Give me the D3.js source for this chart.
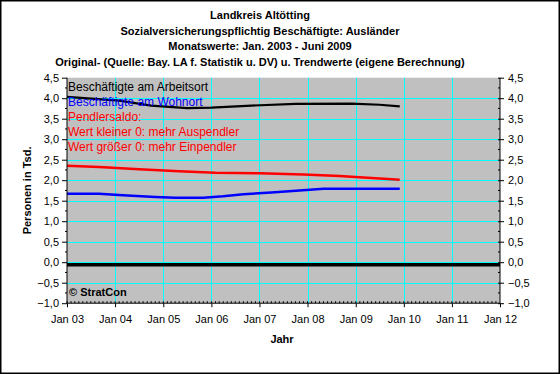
<!DOCTYPE html>
<html lang="de">
<head>
<meta charset="UTF-8">
<title>Landkreis Altötting</title>
<script src="https://d3js.org/d3.v7.min.js"></script>
<style>
    body { margin: 0; background: #fff; }
    svg text { font-family: "Liberation Sans", Arial, sans-serif; }
</style>
</head>
<body>
<div id="chart"></div>
<script>
    // title lines
    let titleLines = [
        "Landkreis Altötting",
        "Sozialversicherungspflichtig Beschäftigte: Ausländer",
        "Monatswerte: Jan. 2003 - Juni 2009",
        "Original- (Quelle: Bay. LA f. Statistik u. DV) u. Trendwerte (eigene Berechnung)"
    ];

    // Beschäftigte am Arbeitsort (Trend, Tsd.)
    let arbeitsortDates = ["2003-01", "2004-02", "2004-10", "2005-07", "2006-01", "2006-11", "2007-10", "2008-12", "2009-07", "2009-12"];
    let arbeitsortValues = [4.03, 3.94, 3.82, 3.76, 3.77, 3.82, 3.86, 3.87, 3.84, 3.80];

    // Beschäftigte am Wohnort
    let wohnortDates = ["2003-01", "2003-09", "2004-03", "2004-11", "2005-04", "2005-11", "2006-04", "2006-09", "2007-04", "2007-11", "2008-05", "2009-12"];
    let wohnortValues = [1.67, 1.67, 1.63, 1.59, 1.575, 1.575, 1.61, 1.66, 1.70, 1.75, 1.79, 1.79];

    // Pendlersaldo
    let saldoDates = ["2003-01", "2003-09", "2004-07", "2005-05", "2006-02", "2007-01", "2007-12", "2008-09", "2009-06", "2009-12"];
    let saldoValues = [2.35, 2.32, 2.27, 2.22, 2.18, 2.17, 2.14, 2.10, 2.05, 2.01];

    // thick zero line
    let zeroDates = ["2003-01", "2012-01"];
    let zeroValues = [-0.06, -0.06];

    let yTicks = [-1, -0.5, 0, 0.5, 1, 1.5, 2, 2.5, 3, 3.5, 4, 4.5];

    let legendLines = [
        {text: "Beschäftigte am Arbeitsort", color: "#000000"},
        {text: "Beschäftigte am Wohnort", color: "#0000ff"},
        {text: "Pendlersaldo:", color: "#ff0000"},
        {text: "Wert kleiner 0: mehr Auspendler", color: "#ff0000"},
        {text: "Wert größer 0: mehr Einpendler", color: "#ff0000"}
    ];

    let width = 560, height = 374;
    let parseMonth = d3.timeParse("%Y-%m");
    let fmtNum = d3.format(".1f");

    let svg = d3.select("#chart").append("svg")
        .attr("width", width)
        .attr("height", height);

    // frame
    svg.append("rect")
        .attr("x", 0.75).attr("y", 0.75)
        .attr("width", width - 1.5).attr("height", height - 1.5)
        .attr("fill", "#fff")
        .attr("stroke", "#000")
        .attr("stroke-width", 1.5);

    let x = d3.scaleTime()
        .domain([new Date(2003, 0, 1), new Date(2012, 0, 1)])
        .range([67, 500]);
    let y = d3.scaleLinear()
        .domain([-1, 4.5])
        .range([303.2, 77.7]);

    // titles
    svg.selectAll("text.title")
        .data(titleLines)
        .join("text")
        .attr("class", "title")
        .attr("x", 260)
        .attr("y", (d, i) => 19 + i * 15.5)
        .attr("text-anchor", "middle")
        .attr("font-size", "11px")
        .attr("font-weight", "bold")
        .text(d => d);

    // plot background
    svg.append("rect")
        .attr("x", x.range()[0]).attr("y", y.range()[1])
        .attr("width", x.range()[1] - x.range()[0])
        .attr("height", y.range()[0] - y.range()[1])
        .attr("fill", "#c0c0c0");

    // grid
    let years = x.ticks(d3.timeYear.every(1));
    svg.append("g").selectAll("line")
        .data(years.slice(1, -1))
        .join("line")
        .attr("x1", d => Math.round(x(d)) + 0.5).attr("x2", d => Math.round(x(d)) + 0.5)
        .attr("y1", y.range()[1]).attr("y2", y.range()[0])
        .attr("stroke", "#00ffff");
    svg.append("g").selectAll("line")
        .data(yTicks.slice(1, -1))
        .join("line")
        .attr("y1", d => Math.round(y(d)) + 0.5).attr("y2", d => Math.round(y(d)) + 0.5)
        .attr("x1", x.range()[0]).attr("x2", x.range()[1])
        .attr("stroke", "#00ffff");

    // series
    let line = d3.line()
        .x(d => x(d.date))
        .y(d => y(d.value));

    function series(dates, values) {
        return dates.map((d, i) => ({date: parseMonth(d), value: values[i]}));
    }

    svg.append("path")
        .datum(series(zeroDates, zeroValues))
        .attr("fill", "none").attr("stroke", "#000").attr("stroke-width", 3.5)
        .attr("d", line);
    svg.append("path")
        .datum(series(saldoDates, saldoValues))
        .attr("fill", "none").attr("stroke", "#ff0000").attr("stroke-width", 2.5)
        .attr("d", line);
    svg.append("path")
        .datum(series(wohnortDates, wohnortValues))
        .attr("fill", "none").attr("stroke", "#0000ff").attr("stroke-width", 2.5)
        .attr("d", line);
    svg.append("path")
        .datum(series(arbeitsortDates, arbeitsortValues))
        .attr("fill", "none").attr("stroke", "#000").attr("stroke-width", 2.2)
        .attr("d", line);

    // axes
    let minorY = d3.range(-1, 4.5, 0.25).filter(v => Math.abs(v * 2 - Math.round(v * 2)) > 0.01);

    let leftAxis = svg.append("g")
        .attr("transform", `translate(${x.range()[0]},0)`)
        .call(d3.axisLeft(y).tickValues(yTicks).tickFormat(d => fmtNum(d).replace(".", ",")).tickSize(5).tickPadding(3));
    leftAxis.append("g").selectAll("line")
        .data(minorY).join("line")
        .attr("x1", -2).attr("x2", 0)
        .attr("y1", d => y(d)).attr("y2", d => y(d))
        .attr("stroke", "#000");

    let rightAxis = svg.append("g")
        .attr("transform", `translate(${x.range()[1]},0)`)
        .call(d3.axisRight(y).tickValues(yTicks).tickFormat(d => fmtNum(d).replace(".", ",")).tickSize(4).tickPadding(4));
    rightAxis.append("g").selectAll("line")
        .data(minorY).join("line")
        .attr("x1", -2).attr("x2", 0)
        .attr("y1", d => y(d)).attr("y2", d => y(d))
        .attr("stroke", "#000");
    rightAxis.selectAll(".tick line").attr("x1", -2);

    let months = d3.timeMonth.range(x.domain()[0], x.domain()[1]);
    let bottomAxis = svg.append("g")
        .attr("transform", `translate(0,${y.range()[0]})`)
        .call(d3.axisBottom(x).tickValues(years).tickFormat(d3.timeFormat("Jan %y")).tickSize(4).tickPadding(8));
    bottomAxis.append("g").selectAll("line")
        .data(months).join("line")
        .attr("x1", d => x(d)).attr("x2", d => x(d))
        .attr("y1", -2).attr("y2", 0)
        .attr("stroke", "#000");

    [leftAxis, rightAxis, bottomAxis].forEach(a => {
        a.selectAll("text").attr("font-size", "11px").attr("fill", "#000")
            .attr("font-family", "'Liberation Sans', Arial, sans-serif");
        a.select(".domain").attr("stroke", "#000");
    });
    leftAxis.select(".domain").attr("d", `M0,${y.range()[0]}V${y.range()[1]}`);
    rightAxis.select(".domain").attr("d", `M0,${y.range()[0]}V${y.range()[1]}`);
    bottomAxis.select(".domain").attr("d", `M${x.range()[0]},0H${x.range()[1]}`);

    // axis titles
    svg.append("text")
        .attr("transform", `translate(31,${(y.range()[0] + y.range()[1]) / 2}) rotate(-90)`)
        .attr("text-anchor", "middle")
        .attr("font-size", "11px").attr("font-weight", "bold")
        .text("Personen in Tsd.");
    svg.append("text")
        .attr("x", 282).attr("y", 343)
        .attr("text-anchor", "middle")
        .attr("font-size", "11px").attr("font-weight", "bold")
        .text("Jahr");

    // in-plot notes
    svg.selectAll("text.note")
        .data(legendLines)
        .join("text")
        .attr("class", "note")
        .attr("x", 68)
        .attr("y", (d, i) => 90.5 + i * 15)
        .attr("font-size", "12px")
        .attr("fill", d => d.color)
        .text(d => d.text);

    svg.append("text")
        .attr("x", 69).attr("y", 296)
        .attr("font-size", "11px").attr("font-weight", "bold")
        .text("© StratCon");
</script>
</body>
</html>
